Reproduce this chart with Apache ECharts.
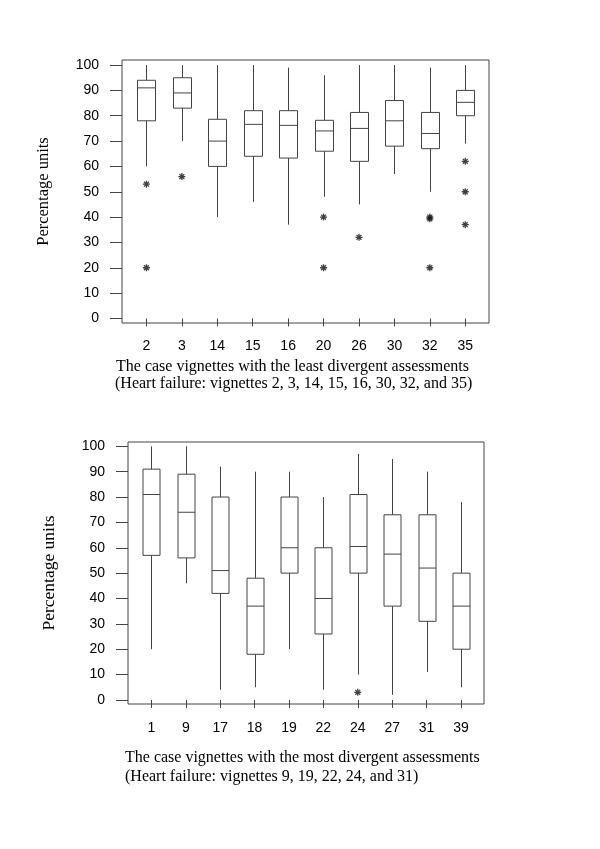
<!DOCTYPE html>
<html>
<head>
<meta charset="utf-8">
<script src="https://cdn.jsdelivr.net/npm/echarts@6.0.0/dist/echarts.min.js"></script>
<style>
  html, body { margin: 0; padding: 0; background: #fff; }
  #main { width: 600px; height: 849px; }
</style>
</head>
<body>
<div id="main"></div>
<script>
// upper panel: vignettes with the least divergent assessments
const topCats = ['2', '3', '14', '15', '16', '20', '26', '30', '32', '35'];
const topMin = [60, 70, 40, 46, 37, 48, 45, 57, 50, 69];
const topQ1 = [78, 83, 60, 64, 63.3, 66, 62, 68, 67, 80];
const topMed = [91, 89, 70, 76.6, 76.2, 74, 75, 78, 73, 85.3];
const topQ3 = [94, 95, 78.6, 82, 82, 78.2, 81.3, 86, 81.3, 90];
const topMax = [100, 100, 100, 100, 99, 96, 100, 100, 99, 100];
// [category position, value]
const topOutliers = [[1, 53], [1, 20], [2, 56], [6, 40], [6, 20], [7, 32],
  [9, 40], [9, 39.3], [9, 20], [10, 62], [10, 50], [10, 37]];

// lower panel: vignettes with the most divergent assessments
const botCats = ['1', '9', '17', '18', '19', '22', '24', '27', '31', '39'];
const botMin = [20, 46, 4, 5, 20, 4, 10, 2, 11, 5];
const botQ1 = [57, 56, 42, 18, 50, 26, 50, 37, 31, 20];
const botMed = [81, 74, 51, 37, 60, 40, 60.5, 57.5, 52, 37];
const botQ3 = [91, 89, 80, 48, 80, 60, 81, 73, 73, 50];
const botMax = [100, 100, 92, 90, 90, 80, 97, 95, 90, 78];
const botOutliers = [[7, 3]];

const yTicks = [0, 10, 20, 30, 40, 50, 60, 70, 80, 90, 100];
const xTicks = [1, 2, 3, 4, 5, 6, 7, 8, 9, 10];

const sans = 'Liberation Sans';
const serif = 'Liberation Serif';
const lineCol = '#444';
const asterisk = 'path://M0,-1L0,1M-1,0L1,0M-0.7,-0.7L0.7,0.7M-0.7,0.7L0.7,-0.7';

function boxData(mins, q1, med, q3, maxs) {
  return mins.map((m, i) => [i + 1, m, q1[i], med[i], q3[i], maxs[i]]);
}

function boxItem(halfW) {
  return function (params, api) {
    const x = api.value(0);
    const pMin = api.coord([x, api.value(1)]);
    const pQ1 = api.coord([x, api.value(2)]);
    const pMed = api.coord([x, api.value(3)]);
    const pQ3 = api.coord([x, api.value(4)]);
    const pMax = api.coord([x, api.value(5)]);
    const cx = Math.round(pMed[0]) + 0.5;
    const st = { stroke: lineCol, lineWidth: 1, fill: 'none' };
    return {
      type: 'group',
      children: [
        { type: 'line', shape: { x1: cx, y1: pMax[1], x2: cx, y2: pQ3[1] }, style: st },
        { type: 'line', shape: { x1: cx, y1: pQ1[1], x2: cx, y2: pMin[1] }, style: st },
        { type: 'rect', shape: { x: cx - halfW, y: pQ3[1], width: halfW * 2, height: pQ1[1] - pQ3[1] }, style: st },
        { type: 'line', shape: { x1: cx - halfW, y1: pMed[1], x2: cx + halfW, y2: pMed[1] }, style: st }
      ]
    };
  };
}

function xAxisOpt(grid, cats, margin) {
  return {
    gridIndex: grid, type: 'value', min: grid === 0 ? 0.31 : 0.32, max: 10.67,
    axisLine: { show: false },
    splitLine: { show: false },
    axisTick: { show: true, customValues: xTicks, length: 8, lineStyle: { color: lineCol } },
    axisLabel: {
      customValues: xTicks, margin: margin,
      formatter: v => cats[v - 1],
      color: '#000', fontSize: 14, fontFamily: sans
    }
  };
}

function yAxisOpt(grid, min, max, nameSize) {
  return {
    gridIndex: grid, type: 'value', min: min, max: max,
    axisLine: { show: false },
    splitLine: { show: false },
    axisTick: { show: true, customValues: yTicks, length: 12, lineStyle: { color: lineCol } },
    axisLabel: { customValues: yTicks, margin: 23, color: '#000', fontSize: 14, fontFamily: sans },
    name: 'Percentage units', nameLocation: 'middle', nameGap: 70,
    nameTextStyle: { color: '#000', fontSize: nameSize, fontFamily: serif }
  };
}

const chart = echarts.init(document.getElementById('main'));
chart.setOption({
  animation: false,
  backgroundColor: '#fff',
  grid: [
    { left: 122, right: 111, top: 60, bottom: 526, show: true, borderColor: lineCol, borderWidth: 1 },
    { left: 128, right: 116, top: 442, bottom: 145, show: true, borderColor: lineCol, borderWidth: 1 }
  ],
  xAxis: [xAxisOpt(0, topCats, 16), xAxisOpt(1, botCats, 17)],
  yAxis: [yAxisOpt(0, -1.8, 102, 16.5), yAxisOpt(1, -1.6, 101.7, 17.5)],
  series: [
    {
      type: 'custom', xAxisIndex: 0, yAxisIndex: 0,
      renderItem: boxItem(9),
      encode: { x: 0, y: [1, 2, 3, 4, 5] },
      data: boxData(topMin, topQ1, topMed, topQ3, topMax)
    },
    {
      type: 'scatter', xAxisIndex: 0, yAxisIndex: 0,
      symbol: asterisk, symbolSize: 7,
      itemStyle: { color: 'transparent', borderColor: '#111', borderWidth: 1.3 },
      data: topOutliers
    },
    {
      type: 'custom', xAxisIndex: 1, yAxisIndex: 1,
      renderItem: boxItem(8.5),
      encode: { x: 0, y: [1, 2, 3, 4, 5] },
      data: boxData(botMin, botQ1, botMed, botQ3, botMax)
    },
    {
      type: 'scatter', xAxisIndex: 1, yAxisIndex: 1,
      symbol: asterisk, symbolSize: 7,
      itemStyle: { color: 'transparent', borderColor: '#111', borderWidth: 1.3 },
      data: botOutliers
    }
  ],
  graphic: [
    { type: 'text', x: 116, y: 366.7, style: { text: 'The case vignettes with the least divergent assessments', font: '16px "Liberation Serif"', fill: '#000', verticalAlign: 'middle' } },
    { type: 'text', x: 115, y: 383.3, style: { text: '(Heart failure: vignettes 2, 3, 14, 15, 16, 30, 32, and 35)', font: '16px "Liberation Serif"', fill: '#000', verticalAlign: 'middle' } },
    { type: 'text', x: 125, y: 757.3, style: { text: 'The case vignettes with the most divergent assessments', font: '16px "Liberation Serif"', fill: '#000', verticalAlign: 'middle' } },
    { type: 'text', x: 125, y: 776.7, style: { text: '(Heart failure: vignettes 9, 19, 22, 24, and 31)', font: '16px "Liberation Serif"', fill: '#000', verticalAlign: 'middle' } }
  ]
});
</script>
</body>
</html>
